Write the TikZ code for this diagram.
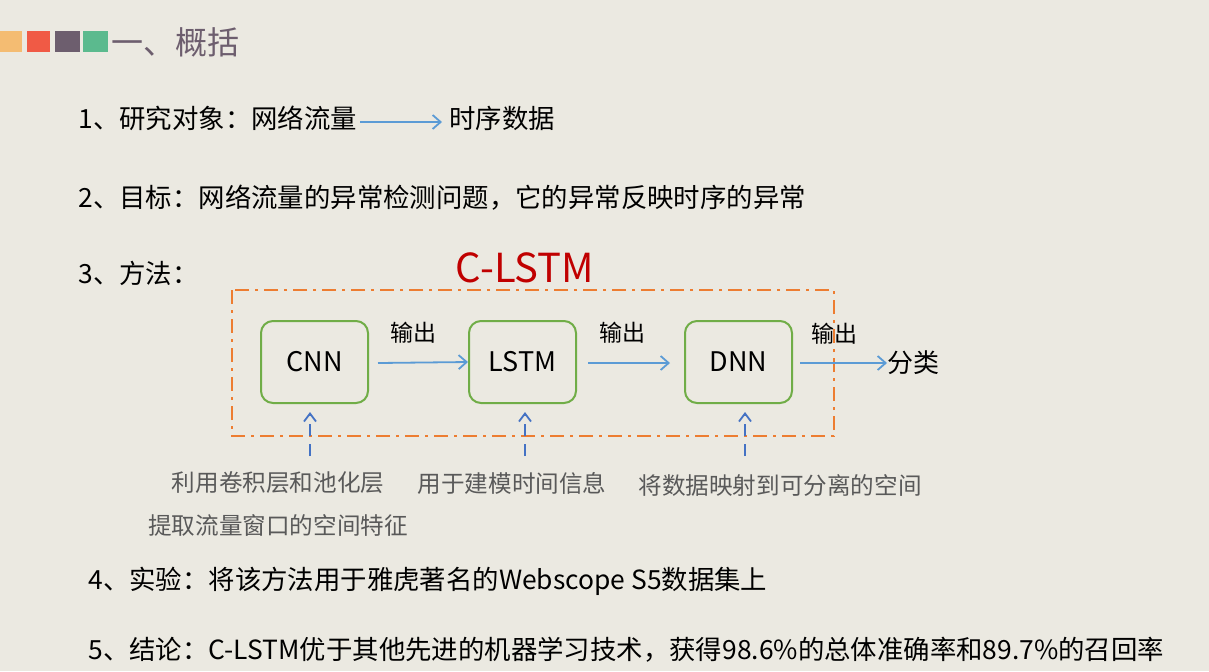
\documentclass[tikz,border=0pt]{standalone}
\usepackage{fontspec}
\setmainfont{Noto Sans CJK SC}
\usetikzlibrary{arrows.meta}
\definecolor{bg}{HTML}{EBE9E1}
\definecolor{sqa}{HTML}{F4BC72}
\definecolor{sqb}{HTML}{F05A45}
\definecolor{sqc}{HTML}{6D5E6E}
\definecolor{sqd}{HTML}{5BBA8E}
\definecolor{arr}{HTML}{5B9BD5}
\definecolor{upc}{HTML}{4472C4}
\definecolor{grn}{HTML}{70AD47}
\definecolor{org}{HTML}{ED7D31}
\definecolor{red}{HTML}{C00000}
\definecolor{gry}{HTML}{595959}
\begin{document}
\begin{tikzpicture}[x=0.5pt,y=-0.5pt,
  txt/.style={anchor=west,inner sep=0,font=\fontsize{13.2}{15}\selectfont,text=black},
  sub/.style={inner sep=0,font=\fontsize{11.8}{14}\selectfont,text=gry},
  blk/.style={draw=grn,line width=1pt,rounded corners=6pt,minimum width=53.5pt,minimum height=41pt,font=\fontsize{13.5}{15}\selectfont},
  harr/.style={draw=arr,line width=0.9pt,-{Straight Barb[length=4pt,width=7pt]}},
  uarr/.style={draw=upc,line width=0.9pt,dashed,dash pattern=on 6pt off 4pt,-{Straight Barb[length=4pt,width=6pt]}},
  lab/.style={inner sep=0,font=\fontsize{11.5}{14}\selectfont}]
\fill[bg] (0,0) rectangle (1209,671);
\fill[sqa] (0,31) rectangle (22,52);
\fill[sqb] (27,31) rectangle (50,52);
\fill[sqc] (55,31) rectangle (80,52);
\fill[sqd] (83,31) rectangle (108,52);
\node[anchor=west,inner sep=0,text=sqc,font=\fontsize{16}{18}\selectfont] (title) at (111,42) {一、概括};
\node[txt] (i1) at (78,118) {1、研究对象：网络流量};
\node[txt] (ts) at (449,118) {时序数据};
\draw[harr] (360,122) -- (442,122);
\node[txt] (i2) at (78,198) {2、目标：网络流量的异常检测问题，它的异常反映时序的异常};
\node[txt] (i3) at (78,273) {3、方法：};
\node[inner sep=0,text=red,font=\fontsize{20}{24}\selectfont] (cl) at (525,268) {C-LSTM};
\draw[org,line width=1pt,dash pattern=on 7pt off 3pt on 1.5pt off 3pt] (232,290) rectangle (834,436);
\node[blk] (cnn) at (314.5,362) {CNN};
\node[blk] (lstm) at (522.5,362) {LSTM};
\node[blk] (dnn) at (738.5,362) {DNN};
\node[lab,anchor=west,font=\fontsize{13}{15}\selectfont] (fl) at (887,363) {分类};
\draw[harr] (378,363) -- (lstm.west);
\draw[harr] (588,363) -- (670,363);
\draw[harr] (800,363) -- (fl.west);
\node[lab] at (413,333) {输出};
\node[lab] at (622,333) {输出};
\node[lab] at (834,334) {输出};
\coordinate (c1) at (310,456); \coordinate (c2) at (525,456); \coordinate (c3) at (745,456);
\draw[uarr] (c1) -- (310,412);
\draw[uarr] (c2) -- (525,412);
\draw[uarr] (c3) -- (745,412);
\node[sub] (s1) at (278,483) {利用卷积层和池化层};
\node[sub] (s2) at (278,525) {提取流量窗口的空间特征};
\node[sub] (s3) at (512,483) {用于建模时间信息};
\node[sub] (s4) at (780,485) {将数据映射到可分离的空间};
\node[txt] (i4) at (88,581) {4、实验：将该方法用于雅虎著名的Webscope S5数据集上};
\node[txt] (i5) at (88,650) {5、结论：C-LSTM优于其他先进的机器学习技术，获得98.6\%的总体准确率和89.7\%的召回率};
\end{tikzpicture}
\end{document}
